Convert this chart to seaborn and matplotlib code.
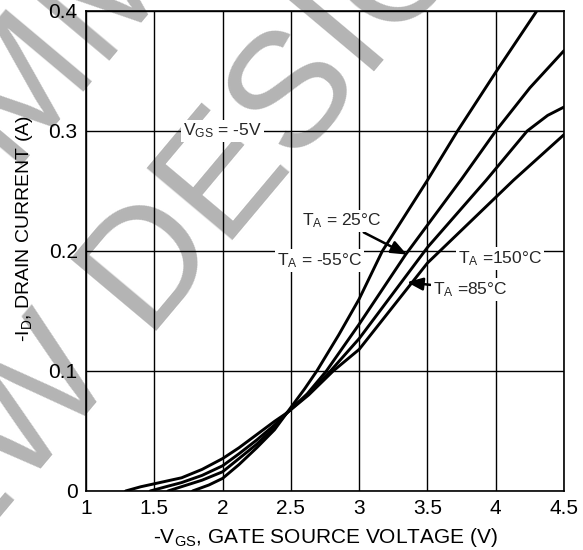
import numpy as np
import pandas as pd
import matplotlib
matplotlib.use("Agg")
import matplotlib.pyplot as plt
import seaborn as sns

# Data (-ID vs -VGS at VGS = -5V)
vgs_m55 = [1.78, 1.9, 2.0, 2.12, 2.25, 2.38, 2.47, 2.6, 2.69, 2.85, 3.0, 3.17, 3.5, 3.72, 4.0, 4.3]
id_m55 = [0.0, 0.005, 0.0105, 0.022, 0.036, 0.051, 0.065, 0.085, 0.1, 0.13, 0.16, 0.2, 0.259, 0.3, 0.349, 0.4]

vgs_25 = [1.6, 1.7, 1.85, 2.0, 2.12, 2.25, 2.38, 2.47, 2.62, 2.76, 3.0, 3.34, 3.75, 4.0, 4.25, 4.5]
id_25 = [0.0, 0.0036, 0.009, 0.016, 0.027, 0.039, 0.053, 0.065, 0.081, 0.1, 0.139, 0.197, 0.26, 0.3, 0.336, 0.367]

vgs_85 = [1.47, 1.6, 1.7, 1.85, 2.0, 2.12, 2.25, 2.38, 2.47, 2.62, 2.79, 3.0, 3.5, 3.93, 4.23, 4.38, 4.5]
id_85 = [0.0, 0.004, 0.007, 0.013, 0.021, 0.031, 0.0425, 0.055, 0.065, 0.08, 0.1, 0.127, 0.203, 0.259, 0.3, 0.313, 0.32]

vgs_150 = [1.29, 1.4, 1.5, 1.7, 1.85, 2.0, 2.12, 2.25, 2.38, 2.47, 2.63, 2.81, 3.0, 3.5, 4.13, 4.5]
id_150 = [0.0, 0.0035, 0.006, 0.011, 0.018, 0.027, 0.036, 0.047, 0.058, 0.065, 0.08, 0.1, 0.118, 0.19, 0.259, 0.297]

x_ticks = [1, 1.5, 2, 2.5, 3, 3.5, 4, 4.5]
y_ticks = [0, 0.1, 0.2, 0.3, 0.4]
x_tick_labels = ["1", "1.5", "2", "2.5", "3", "3.5", "4", "4.5"]
y_tick_labels = ["0", "0.1", "0.2", "0.3", "0.4"]

df = pd.concat([
    pd.DataFrame({"vgs": vgs_m55, "id": id_m55, "temp": "-55"}),
    pd.DataFrame({"vgs": vgs_25, "id": id_25, "temp": "25"}),
    pd.DataFrame({"vgs": vgs_85, "id": id_85, "temp": "85"}),
    pd.DataFrame({"vgs": vgs_150, "id": id_150, "temp": "150"}),
])

sns.set_theme(style="white")
plt.rcParams["font.family"] = ["Liberation Sans", "DejaVu Sans"]
plt.rcParams["mathtext.default"] = "regular"

fig = plt.figure(figsize=(5.83, 5.5), dpi=100)
ax = fig.add_axes([0.1475, 0.1073, 0.82, 0.8727])

# watermark, drawn below the axes
wm = dict(color="#b4b4b4", fontsize=118, rotation=50, rotation_mode="anchor",
          ha="center", va="center", zorder=-5)
fig.text(-0.04, 0.72, "NOT RECOMMENDED", **wm)
fig.text(0.094, 0.296, "FOR NEW DESIGN", **wm)

ax.set_facecolor("none")
sns.lineplot(data=df, x="vgs", y="id", hue="temp", units="temp", estimator=None,
             sort=False, palette=["black"] * 4, linewidth=2.1, legend=False, ax=ax, zorder=3)

ax.set_xlim(1, 4.5)
ax.set_ylim(0, 0.4)
ax.set_xticks(x_ticks)
ax.set_xticklabels(x_tick_labels)
ax.set_yticks(y_ticks)
ax.set_yticklabels(y_tick_labels)
ax.tick_params(axis="both", length=0, labelsize=15, colors="black")
ax.tick_params(axis="x", pad=6)
ax.tick_params(axis="y", pad=6)
ax.grid(True, color="black", linewidth=1.0)
for s in ax.spines.values():
    s.set_visible(True)
    s.set_color("black")
    s.set_linewidth(1.2)

ax.set_xlabel("-V$_{GS}$, GATE SOURCE VOLTAGE (V)", fontsize=15, color="black", va="center")
ax.set_ylabel("-I$_D$, DRAIN CURRENT (A)", fontsize=14, color="black", va="center")
ax.xaxis.set_label_coords(0.5, -0.096)
ax.yaxis.set_label_coords(-0.128, 0.546)

box = dict(facecolor="white", edgecolor="none", pad=1.5)
arrow = dict(arrowstyle="-|>,head_length=0.5,head_width=0.2", color="black", lw=1.8,
             mutation_scale=19, shrinkA=0, shrinkB=0)
ax.text(2.0, 0.3, "V$_{GS}$ = -5V", fontsize=12.5, ha="center", va="center", bbox=box, zorder=4)
ax.text(2.71, 0.192, "T$_A$ = -55°C", fontsize=12.5, ha="center", va="center", bbox=box, zorder=4)
ax.text(4.03, 0.194, "T$_A$ =150°C", fontsize=12.5, ha="center", va="center", bbox=box, zorder=4)
ax.annotate("T$_A$ = 25°C", xy=(3.35, 0.197), xytext=(2.87, 0.225), fontsize=12.5,
            ha="center", va="center", bbox=box, zorder=4, arrowprops=arrow)
ax.annotate("T$_A$ =85°C", xy=(3.35, 0.174), xytext=(3.81, 0.168), fontsize=12.5,
            ha="center", va="center", bbox=box, zorder=4, arrowprops=arrow)

fig.savefig("out.png", dpi=100)
